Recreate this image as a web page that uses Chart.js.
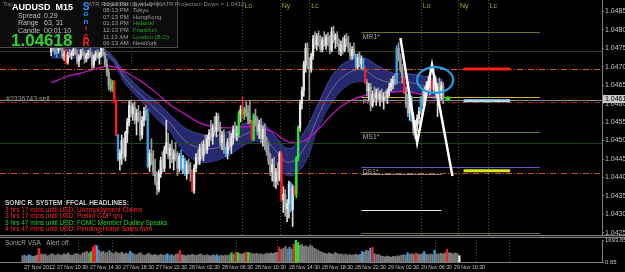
<!DOCTYPE html>
<html>
<head>
<meta charset="utf-8">
<script src="https://cdn.jsdelivr.net/npm/chart.js@4.4.1/dist/chart.umd.min.js"></script>
<style>
  html, body { margin: 0; padding: 0; background: #000; }
  #wrap { position: relative; width: 625px; height: 272px; overflow: hidden; background: #000; }
  #main { position: absolute; left: 0; top: 0; }
  #sep { position: absolute; left: 0; top: 235px; width: 625px; height: 1px; border-top: 1px solid #808080; border-bottom: 1px solid #808080; background: #202020; }
  #vol { position: absolute; left: 0; top: 238px; }
</style>
</head>
<body>
<div id="wrap">
  <canvas id="main" width="625" height="235"></canvas>
  <div id="sep"></div>
  <canvas id="vol" width="625" height="34"></canvas>
</div>
<script>
// AUDUSD M15 - Sonic R chart, MT4 look

// prices are kept in pipettes above 1.04000 (618 -> 1.04618)
const BASE = 1.04;
const BAR_SLOTS = 270;
const PRICE_MIN = 1.04249;
const PRICE_MAX = 1.04886;

const TIME_TICKS = ["27 Nov 2012", "27 Nov 10:30", "27 Nov 14:30", "27 Nov 18:30", "27 Nov 22:30",
  "28 Nov 02:30", "28 Nov 06:30", "28 Nov 10:30", "28 Nov 14:30", "28 Nov 18:30", "28 Nov 22:30",
  "29 Nov 02:30", "29 Nov 06:30", "29 Nov 10:30"];
const TIME_TICK_BARS = [0, 16, 32, 48, 64, 80, 96, 112, 128, 144, 160, 176, 192, 208];
const PRICE_TICKS = [1.04855, 1.04805, 1.04755, 1.04705, 1.04655, 1.04605, 1.04555, 1.04505,
  1.04455, 1.04405, 1.04355, 1.04305, 1.04255];

const OPEN = [745,760,752,742,750,762,755,735,740,718, 738,736,742,752,740,720,732,748,738,726,
  738,745,735,710,732,742,730,740,760,738, 712,690,655,645,664,612,520,455,470,505,
  462,525,555,600,578,595,560,580,565,520, 560,585,575,435,470,450,420,395,372,415,
  450,430,480,500,465,485,455,470,460,430, 462,430,455,415,440,425,420,370,430,460,
  450,485,465,495,480,510,525,515,540,530, 570,540,500,520,480,470,500,490,515,535,
  520,522,578,590,575,590,580,560,555,508, 572,555,530,548,510,535,490,475,450,420,
  440,395,420,400,470,345,360,320,335,388, 318,378,360,458,540,605,640,710,755,712,
  700,735,780,765,788,770,752,778,765,785, 772,750,800,778,790,768,745,765,750,782,
  770,755,735,752,735,705,730,712,725,698, 662,640,650,600,630,620,635,618,630,615,
  625,622,638,650,660,670,662,755,730,700, 675,635,605,580,622,560,530,545,565,585,
  620,610,640,655,648,665,645,670,630,650, 628,655];
const HIGH = [770,772,765,758,768,775,762,748,752,745, 752,748,758,760,750,738,752,758,745,742,
  750,755,745,738,748,752,745,768,770,745, 725,700,672,668,668,615,522,480,520,512,
  530,565,612,615,605,610,590,600,585,570, 595,600,590,480,510,478,455,420,425,460,
  475,490,560,525,495,505,480,500,475,470, 480,465,458,450,455,445,425,440,470,480,
  495,500,505,520,520,535,560,550,570,580, 578,555,530,535,488,510,530,525,545,555,
  545,585,600,622,595,610,600,612,560,578, 590,570,560,565,545,550,515,500,470,455,
  460,430,445,475,475,380,372,345,395,392, 385,382,462,545,615,650,720,768,770,730,
  742,790,800,795,802,790,785,800,792,798, 790,812,815,795,800,780,775,785,790,795,
  788,770,760,770,740,740,745,735,728,705, 670,660,660,640,650,645,648,640,645,635,
  640,645,660,672,680,685,762,770,740,712, 680,650,630,628,626,580,560,575,595,625,
  640,650,665,680,672,672,680,680,660,675, 665,662];
const LOW = [735,748,738,730,742,752,728,722,712,712, 730,725,735,738,712,705,725,735,715,718,
  728,732,700,702,722,728,712,732,735,705, 680,642,638,638,610,518,450,425,440,455,
  450,500,545,570,560,550,520,555,505,510, 545,560,430,420,440,410,385,358,365,405,
  420,420,470,455,430,445,425,450,410,420, 425,415,410,400,415,395,365,362,420,440,
  440,455,450,470,470,490,505,495,520,515, 530,490,480,470,462,455,480,470,495,510,
  505,515,555,565,562,570,550,550,505,505, 545,520,510,500,490,480,465,440,410,395,
  380,375,385,395,340,310,300,285,295,312, 272,355,350,450,530,590,625,690,700,615,
  690,725,755,750,760,745,745,760,752,762, 740,745,770,755,760,738,735,740,745,760,
  745,725,725,728,700,700,705,700,695,660, 625,615,585,595,610,600,612,598,610,590,
  612,605,625,640,645,655,658,720,690,660, 632,595,570,560,555,520,510,530,550,578,
  600,598,628,640,630,640,635,620,570,620, 615,605];
const CLOSE = [760,752,742,750,762,755,735,740,718,738, 736,742,752,740,720,732,748,738,726,738,
  745,735,710,732,742,730,740,760,738,712, 690,655,645,664,612,520,455,470,505,462,
  525,555,600,578,595,560,580,565,520,560, 585,575,435,470,450,420,395,372,415,450,
  430,480,500,465,485,455,470,460,430,462, 430,455,415,440,425,420,370,430,460,450,
  485,465,495,480,510,525,515,540,530,570, 540,500,520,480,470,500,490,515,535,520,
  522,578,590,575,590,580,560,555,508,572, 555,530,548,510,535,490,475,450,420,440,
  395,420,400,470,345,360,320,335,388,318, 378,360,458,540,605,640,710,755,712,700,
  735,780,765,788,770,752,778,765,785,772, 750,800,778,790,768,745,765,750,782,770,
  755,735,752,735,705,730,712,725,698,662, 640,650,600,630,620,635,618,630,615,625,
  622,638,650,660,670,662,755,730,700,675, 635,605,580,622,560,530,545,565,585,620,
  610,640,655,648,665,645,670,630,650,628, 655,618];
const VOLUME = [480,520,450,560,500,430,470,540,1050,620, 560,600,480,520,650,580,500,610,560,520,
  640,580,700,560,520,610,660,590,540,700, 720,820,680,800,1150,1300,1250,900,760,820,
  700,760,880,720,640,780,700,660,760,620, 680,640,820,700,600,560,640,720,560,520,
  600,680,560,520,580,500,540,600,520,560, 640,520,560,480,600,620,880,560,520,480,
  560,520,600,540,500,580,620,540,500,560, 520,480,560,500,560,460,520,480,540,500,
  560,720,600,760,720,640,600,680,760,740, 700,640,620,680,600,640,580,620,680,640,
  700,660,720,760,1130,960,1050,1200,1000,1130, 1000,1370,1693.65,1500,1300,1350,1200,1250,1150,1300,
  1200,1050,950,880,800,720,680,620,700,640, 600,720,660,600,620,560,600,540,580,520,
  560,600,540,580,800,760,900,860,1050,1130, 640,560,600,480,440,400,460,420,380,440,
  420,480,460,520,560,520,720,600,640,580, 700,620,580,640,800,600,560,620,580,900,
  640,600,680,620,700,960,720,680,640,700, 660,480];

// bars flagged by the VSA indicator
const VSA_BLUE = [3, 36, 52, 70, 72, 94, 129, 164, 168, 186, 194, 199];
const VSA_RED = [8, 34, 35, 76, 103, 108, 124, 131, 169, 190, 205];
const VSA_GREEN = [33, 101, 104, 109, 132, 133];

// Sonic R dragon band + EMA 89, read every 8 bars
const DRAGON_BARS = [0,8,16,24,32,40,48,56,64,72,80,88,96,104,112,120,128,136,144,152,160,168,176,184,192,200,208,211];
const DRAGON_HI = [772,772,770,764,740,686,645,613,575,539,523,518,531,550,561,520,483,526,607,686,721,729,707,688,686,680,672,669];
const DRAGON_LO = [729,729,729,729,724,659,615,569,529,472,447,450,466,493,501,447,409,439,542,615,656,664,637,637,640,629,613,607];
const DRAGON_MID = [750,750,750,746,732,672,630,591,552,505,485,484,498,521,531,483,446,482,574,650,688,696,672,662,663,654,642,638];
const EMA89 = [661,678,688,699,707,691,667,637,602,577,553,542,539,542,542,526,501,504,537,580,610,626,632,637,637,629,623,623];

const ZIGZAG_BARS = [188, 197, 205, 216];
const ZIGZAG = [783, 499, 710, 409];

const SESSION_BARS = [7, 27, 43, 103, 123, 139, 199, 219, 235];
const SESSION_NAMES = ["Lo", "Ny", "Lc", "Lo", "Ny", "Lc", "Lo", "Ny", "Lc"];

const PIVOT_NAMES = ["MR1*", "PP*", "MS1*", "DS1*", "MS2*"];
const PIVOT_LEVELS = [800, 623, 529, 434, 255];
const PIVOT_FROM = 167;
const PIVOT_TO = 263;

const RIGHT_MARK_LEVELS = [699, 613, 423];
const RIGHT_MARK_FROM = 222;
const RIGHT_MARK_TO = 247;

const ORDER_LEVEL = 616;
const ORDER_LABEL = "#2336743 sell";
const SHORT_LEVELS = [413, 317];   // gray + white lines under the pivots
const SHORT_TO = 210;

const HEADLINES = [
  "3 hrs 17 mins until USD: Unemployment Claims",
  "3 hrs 17 mins until USD: Prelim GDP q/q",
  "3 hrs 47 mins until USD: FOMC Member Dudley Speaks",
  "4 hrs 47 mins until USD: Pending Home Sales m/m",
];
const HEADLINE_GOOD = [false, false, true, false];

const TZ_TIMES = ["10:13 PM", "08:13 PM", "07:13 PM", "01:13 PM", "12:13 PM", "11:13 AM", "06:13 AM"];
const TZ_CITIES = ["Sydney", "Tokyo", "HongKong", "Helsinki", "Frankfurt", "London (B.O)", "NewYork"];
const TZ_OPEN = [false, false, false, true, true, true, false];

const FONT = "'Liberation Sans', Arial, sans-serif";
Chart.defaults.font.family = FONT;

const p = (v) => BASE + v / 100000;
const last = CLOSE.length - 1;

function vsaColor(i, upCol, downCol) {
  if (VSA_BLUE.includes(i)) return "#3ba2ea";
  if (VSA_RED.includes(i)) return "#ff1c1c";
  if (VSA_GREEN.includes(i)) return "#2ee62e";
  return CLOSE[i] >= OPEN[i] ? upCol : downCol;
}

function lineSet(bars, vals, extra) {
  return Object.assign({
    type: "line",
    data: bars.map((b, k) => ({ x: b, y: p(vals[k]) })),
    pointRadius: 0,
    pointHoverRadius: 0,
    borderWidth: 1,
    fill: false,
  }, extra);
}

// keep the plot edge-to-edge, chart.js would pad for half tick labels
function noPad(s) {
  s.paddingTop = 0;
  s.paddingBottom = 0;
  s.paddingLeft = 0;
  s.paddingRight = 0;
}

function drawSessions(chart) {
  const { ctx, chartArea, scales } = chart;
  ctx.save();
  ctx.strokeStyle = "#55551c";
  ctx.lineWidth = 1;
  ctx.setLineDash([1, 2]);
  SESSION_BARS.forEach((b) => {
    const x = Math.round(scales.x.getPixelForValue(b)) + 0.5;
    ctx.beginPath();
    ctx.moveTo(x, chartArea.top);
    ctx.lineTo(x, chartArea.bottom);
    ctx.stroke();
  });
  ctx.restore();
}

function hline(ctx, y, x0, x1, color, dash, width) {
  ctx.save();
  ctx.strokeStyle = color;
  ctx.lineWidth = width || 1;
  ctx.setLineDash(dash || []);
  ctx.beginPath();
  ctx.moveTo(x0, Math.round(y) + 0.5);
  ctx.lineTo(x1, Math.round(y) + 0.5);
  ctx.stroke();
  ctx.restore();
}

const mainDecor = {
  id: "mainDecor",
  beforeDatasetDraw(chart, args) {
    if (args.index !== 4) return; // just before the candle wicks
    const { ctx, chartArea: a, scales } = chart;
    const ys = (v) => scales.y.getPixelForValue(p(v));
    const xs = (b) => scales.x.getPixelForValue(b);
    drawSessions(chart);

    const dashDot = [6, 2, 1, 2];
    hline(ctx, ys(748), a.left, a.right, "#3c3c1e");
    hline(ctx, ys(499), a.left, a.right, "#1e461e");
    hline(ctx, ys(699), a.left, a.right, "#e0561a", dashDot);
    hline(ctx, ys(610), a.left, a.right, "#b01c1c", dashDot);
    hline(ctx, ys(417), a.left, a.right, "#d0501a", dashDot);
    hline(ctx, ys(ORDER_LEVEL), a.left, a.right, "#8a8a8a");

    const pivotCols = ["#70702a", "#bcbc30", "#70702a", "#5a5ac8", "#70702a"];
    ctx.save();
    ctx.font = "7px " + FONT;
    ctx.textBaseline = "top";
    PIVOT_LEVELS.forEach((v, k) => {
      const y = ys(v);
      hline(ctx, y, xs(PIVOT_FROM), xs(PIVOT_TO), pivotCols[k]);
      ctx.fillStyle = "#a8a8a8";
      ctx.fillText(PIVOT_NAMES[k], xs(PIVOT_FROM) + 1, y + 2);
    });
    hline(ctx, ys(SHORT_LEVELS[0]), xs(PIVOT_FROM), xs(SHORT_TO), "#8a8a8a");
    hline(ctx, ys(SHORT_LEVELS[1]), xs(PIVOT_FROM), xs(SHORT_TO), "#e6e6e6");

    ctx.fillStyle = "#9a9a9a";
    ctx.textBaseline = "middle";
    ctx.fillText(ORDER_LABEL, 6, ys(ORDER_LEVEL) - 1);
    ctx.restore();
  },
  afterDatasetsDraw(chart) {
    const { ctx, scales } = chart;
    // circled double top
    const cx = scales.x.getPixelForValue(206.7);
    const cy = scales.y.getPixelForValue(p(669));
    const rx = scales.x.getPixelForValue(216.4) - cx;
    const ry = scales.y.getPixelForValue(p(634)) - cy;
    ctx.save();
    ctx.strokeStyle = "#1e9ee8";
    ctx.lineWidth = 2.2;
    ctx.beginPath();
    ctx.ellipse(cx, cy, rx, ry, 0, 0, Math.PI * 2);
    ctx.stroke();
    ctx.restore();
  },
  afterDraw(chart) {
    const { ctx, scales } = chart;
    ctx.save();
    // session names along the top
    ctx.font = "7px " + FONT;
    ctx.textBaseline = "middle";
    ctx.fillStyle = "#a4a432";
    SESSION_BARS.forEach((b, k) => {
      ctx.fillText(SESSION_NAMES[k], scales.x.getPixelForValue(b) + 2, 6);
    });

    // info box
    ctx.fillStyle = "#0c0c0c";
    ctx.fillRect(0, 0, 177, 47);
    ctx.strokeStyle = "#4a4a4a";
    ctx.lineWidth = 1;
    ctx.strokeRect(-1, -1, 178.5, 48.5);

    ctx.font = "6px " + FONT;
    ctx.fillStyle = "#8c8c8c";
    ctx.fillText("Top", 3, 4);
    ctx.fillText("ATR Projection Up = 1.0486", 88, 4);
    ctx.fillText("|  ATR Projection Down = 1.0432", 157, 4);

    ctx.font = "bold 9px " + FONT;
    ctx.fillStyle = "#ffffff";
    ctx.fillText("AUDUSD  M15", 12, 8);
    ctx.font = "7px " + FONT;
    ctx.fillStyle = "#c0c0c0";
    [["Spread", "0.29"], ["Range", "63, 31"], ["Candle", "00:01:10"]].forEach((r, k) => {
      ctx.fillText(r[0], 18, 16 + k * 7.5);
      ctx.fillText(r[1], 44, 16 + k * 7.5);
    });
    ctx.font = "bold 17px " + FONT;
    ctx.fillStyle = "#32cd32";
    ctx.fillText(p(CLOSE[last]).toFixed(5), 11, 41);

    const sonic = ["S", "o", "n", "i", "c", "R"];
    const sonicCol = ["#1e90ff", "#1e90ff", "#1e90ff", "#d21e1e", "#ff2828", "#ff2020"];
    ctx.textAlign = "center";
    sonic.forEach((ch, k) => {
      ctx.font = (k === 0 || k === 5 ? "bold 10px " : "bold 8px ") + FONT;
      ctx.fillStyle = sonicCol[k];
      ctx.fillText(ch, 86, 7 + k * 7.2);
    });
    ctx.textAlign = "left";

    ctx.font = "6px " + FONT;
    TZ_TIMES.forEach((t, k) => {
      const y = 4 + k * 6.6;
      ctx.fillStyle = "#a0a0a0";
      ctx.fillText(t, 103, y);
      ctx.fillStyle = TZ_OPEN[k] ? "#22a022" : "#a0a0a0";
      ctx.fillText(TZ_CITIES[k], 133, y);
    });

    // headlines bottom-left
    ctx.font = "bold 6.5px " + FONT;
    ctx.fillStyle = "#d0d0d0";
    ctx.fillText("SONIC R. SYSTEM  FFCAL HEADLINES:", 5, 203);
    ctx.font = "6.5px " + FONT;
    HEADLINES.forEach((h, k) => {
      ctx.fillStyle = HEADLINE_GOOD[k] ? "#26d026" : "#ff2626";
      ctx.fillText(h, 5, 210 + k * 6.5);
    });

    // current price tag on the axis
    const yq = scales.y.getPixelForValue(p(CLOSE[last]));
    ctx.fillStyle = "#c8c8c8";
    ctx.fillRect(603, Math.round(yq) - 4, 22, 8);
    ctx.fillStyle = "#000";
    ctx.font = "7px " + FONT;
    ctx.fillText(p(CLOSE[last]).toFixed(5), 605, Math.round(yq));
    ctx.restore();
  },
};

const bars = CLOSE.map((c, i) => i);

new Chart(document.getElementById("main"), {
  data: {
    datasets: [
      lineSet(DRAGON_BARS, DRAGON_HI, { borderColor: "rgba(72,82,175,0.9)", backgroundColor: "rgba(40,45,122,0.92)", fill: "+1", tension: 0.4, order: 10 }),
      lineSet(DRAGON_BARS, DRAGON_LO, { borderColor: "rgba(72,82,175,0.9)", tension: 0.4, order: 10 }),
      lineSet(DRAGON_BARS, DRAGON_MID, { borderColor: "#80808e", borderWidth: 0.8, tension: 0.4, order: 9 }),
      lineSet(DRAGON_BARS, EMA89, { borderColor: "#d012d0", borderWidth: 1.2, tension: 0.4, order: 8 }),
      {
        type: "bar",
        data: bars.map((i) => ({ x: i, y: [p(LOW[i]), p(HIGH[i])] })),
        backgroundColor: bars.map((i) => vsaColor(i, "#dcdcdc", "#9a9a9a")),
        barThickness: 1,
        grouped: false,
        order: 6,
      },
      {
        type: "bar",
        data: bars.map((i) => ({ x: i, y: [p(Math.min(OPEN[i], CLOSE[i])), p(Math.max(OPEN[i], CLOSE[i]))] })),
        backgroundColor: bars.map((i) => vsaColor(i, "#e8e8e8", "#a0a0a0")),
        barThickness: 1.6,
        minBarLength: 1,
        grouped: false,
        order: 5,
      },
      lineSet([RIGHT_MARK_FROM, RIGHT_MARK_TO], [RIGHT_MARK_LEVELS[0], RIGHT_MARK_LEVELS[0]], { borderColor: "#ff1c1c", borderWidth: 3, order: 3 }),
      lineSet([RIGHT_MARK_FROM, RIGHT_MARK_TO], [RIGHT_MARK_LEVELS[1], RIGHT_MARK_LEVELS[1]], { borderColor: "#a8dcf0", borderWidth: 3, order: 3 }),
      lineSet([RIGHT_MARK_FROM, RIGHT_MARK_TO], [RIGHT_MARK_LEVELS[2], RIGHT_MARK_LEVELS[2]], { borderColor: "#dce61c", borderWidth: 3, order: 3 }),
      lineSet(ZIGZAG_BARS, ZIGZAG, { borderColor: "#ffffff", borderWidth: 2.5, order: 2 }),
      lineSet([last + 2.5], [CLOSE[last]], { showLine: false, pointRadius: 2.5, pointBackgroundColor: "#22e022", pointBorderWidth: 0, order: 1 }),
    ],
  },
  options: {
    responsive: false,
    animation: false,
    devicePixelRatio: 1,
    layout: { padding: 0, autoPadding: false },
    plugins: { legend: { display: false }, tooltip: { enabled: false } },
    scales: {
      x: { type: "linear", min: -0.5, max: BAR_SLOTS - 0.5, display: false },
      y: {
        position: "right",
        min: PRICE_MIN,
        max: PRICE_MAX,
        afterFit: (s) => { s.width = 23; noPad(s); },
        afterBuildTicks: (s) => { s.ticks = PRICE_TICKS.map((v) => ({ value: v })); },
        ticks: { color: "#c4c4c4", font: { size: 7 }, padding: 1, callback: (v) => v.toFixed(5) },
        grid: { drawOnChartArea: false, color: "#808080", tickLength: 2 },
        border: { color: "#808080" },
      },
    },
  },
  plugins: [mainDecor],
});

const volDecor = {
  id: "volDecor",
  beforeDatasetsDraw(chart) {
    drawSessions(chart);
  },
  afterDraw(chart) {
    const { ctx, chartArea, scales } = chart;
    ctx.save();
    ctx.font = "6.5px " + FONT;
    ctx.fillStyle = "#a0a0a0";
    ctx.textBaseline = "middle";
    ctx.fillText("SonicR VSA   Alert off.", 5, 5);
    // time labels, placed by the x scale (squeezed like the MT4 font)
    ctx.font = "6px " + FONT;
    ctx.fillStyle = "#c4c4c4";
    TIME_TICK_BARS.forEach((b, k) => {
      ctx.fillText(TIME_TICKS[k], Math.round(scales.x.getPixelForValue(b)) + 1, chartArea.bottom + 5, 31);
    });
    ctx.restore();
  },
};

new Chart(document.getElementById("vol"), {
  type: "bar",
  data: {
    datasets: [{
      data: VOLUME.map((v, i) => ({ x: i, y: v })),
      backgroundColor: VOLUME.map((v, i) => (i === last ? "#ffffff" : vsaColor(i, "#7c7c7c", "#7c7c7c"))),
      barThickness: 1.5,
    }],
  },
  options: {
    responsive: false,
    animation: false,
    devicePixelRatio: 1,
    layout: { padding: { top: 2, bottom: 10 }, autoPadding: false },
    plugins: { legend: { display: false }, tooltip: { enabled: false } },
    scales: {
      x: {
        type: "linear",
        min: -0.5,
        max: BAR_SLOTS - 0.5,
        afterBuildTicks: (s) => { s.ticks = TIME_TICK_BARS.map((v) => ({ value: v })); },
        afterFit: (s) => { s.height = 0; noPad(s); },
        ticks: { display: false },
        grid: { display: false },
        border: { color: "#808080" },
      },
      y: {
        position: "right",
        min: 0.65,
        max: 1693.65,
        afterFit: (s) => { s.width = 23; noPad(s); },
        afterBuildTicks: (s) => { s.ticks = [{ value: 1693.65 }, { value: 0.65 }]; },
        ticks: { color: "#c4c4c4", font: { size: 6 }, padding: 1, callback: (v) => v.toFixed(2) },
        grid: { drawOnChartArea: false, color: "#808080", tickLength: 2 },
        border: { color: "#808080" },
      },
    },
  },
  plugins: [volDecor],
});
</script>
</body>
</html>
